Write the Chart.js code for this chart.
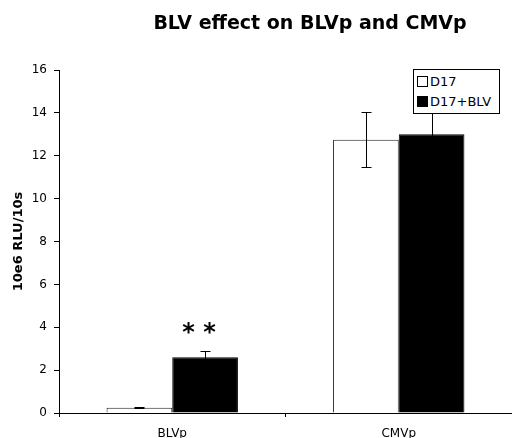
<!DOCTYPE html>
<html>
<head>
<meta charset="utf-8">
<script src="https://cdn.jsdelivr.net/npm/chart.js@4/dist/chart.umd.min.js"></script>
<style>
  body { margin: 0; background: #fff; }
  .wrap { position: relative; width: 512px; height: 438px; }
  .legend {
    position: absolute; left: 413px; top: 69px; width: 85px; height: 41px;
    border: 1px solid #000; background: #fff;
    font-family: Verdana, "DejaVu Sans", sans-serif; font-size: 13px; color: #000;
    padding-top: 2px;
  }
  .legend div { height: 20px; line-height: 20px; white-space: nowrap; padding-left: 3px; }
  .legend span { display: inline-block; width: 9px; height: 9px; border: 1px solid #000; margin-right: 2px; vertical-align: -1px; }
</style>
</head>
<body>
<div class="wrap">
  <canvas id="chart"></canvas>
  <div class="legend">
    <div><span style="background:#fff"></span>D17</div>
    <div><span style="background:#000"></span>D17+BLV</div>
  </div>
</div>
<script>
// 데이터
const categories = ['BLVp', 'CMVp'];
const d17 = [0.25, 12.75];
const d17Err = [0.03, 1.28];
const d17Blv = [2.6, 13.0];
const d17BlvErr = [0.27, 1.2];
const yTicks = [0, 2, 4, 6, 8, 10, 12, 14, 16];

const FONT = 'Verdana, "DejaVu Sans", sans-serif';
Chart.defaults.font.family = FONT;
Chart.defaults.color = '#000';

// 에러바 + 제목 + 별표
const extras = {
    id: 'extras',
    afterDatasetsDraw(chart) {
        const ctx = chart.ctx;
        const y = chart.scales.y;
        const errs = [d17Err, d17BlvErr];
        ctx.save();
        ctx.strokeStyle = '#000';
        ctx.lineWidth = 1;
        chart.data.datasets.forEach(function(ds, i) {
            chart.getDatasetMeta(i).data.forEach(function(bar, j) {
                const v = ds.data[j];
                const top = Math.round(y.getPixelForValue(v + errs[i][j])) + 0.5;
                const bot = Math.round(y.getPixelForValue(v - errs[i][j])) + 0.5;
                const x = Math.round(bar.x) + 0.5;
                ctx.beginPath();
                ctx.moveTo(x, top); ctx.lineTo(x, bot);
                ctx.moveTo(x - 5, top); ctx.lineTo(x + 5, top);
                ctx.moveTo(x - 5, bot); ctx.lineTo(x + 5, bot);
                ctx.stroke();
            });
        });

        // ** 표시
        const b = chart.getDatasetMeta(1).data[0];
        ctx.fillStyle = '#000';
        ctx.font = 'bold 24px ' + FONT;
        ctx.textAlign = 'center';
        ctx.textBaseline = 'alphabetic';
        ctx.fillText('* *', b.x - 6, y.getPixelForValue(d17Blv[0] + d17BlvErr[0]) - 11);

        // 제목
        ctx.font = 'bold 19px ' + FONT;
        ctx.textBaseline = 'middle';
        ctx.fillText('BLV effect on BLVp and CMVp', 310, 24);
        ctx.restore();
    }
};

new Chart(document.getElementById('chart'), {
    type: 'bar',
    data: {
        labels: categories,
        datasets: [
            {
                label: 'D17',
                data: d17,
                backgroundColor: '#fff',
                borderColor: '#222',
                borderWidth: 1,
                barPercentage: 1,
                categoryPercentage: 0.58
            },
            {
                label: 'D17+BLV',
                data: d17Blv,
                backgroundColor: '#000',
                borderColor: '#000',
                borderWidth: 1,
                barPercentage: 1,
                categoryPercentage: 0.58
            }
        ]
    },
    options: {
        responsive: true,
        maintainAspectRatio: false,
        animation: false,
        layout: { padding: { top: 70, right: 0, left: 0, bottom: 0 } },
        plugins: {
            legend: { display: false },
            title: { display: false },
            tooltip: { enabled: false }
        },
        scales: {
            y: {
                min: 0,
                max: 16,
                afterBuildTicks: function(scale) {
                    scale.ticks = yTicks.map(function(v) { return { value: v }; });
                },
                afterFit: function(scale) { scale.width = 59; },
                ticks: { font: { size: 12 }, padding: 7, color: '#000' },
                grid: { drawOnChartArea: false, tickLength: 5, color: '#000' },
                border: { color: '#000', width: 1 },
                title: {
                    display: true,
                    text: '10e6 RLU/10s',
                    font: { size: 13, weight: 'bold' },
                    padding: { top: 11, bottom: 0 }
                }
            },
            x: {
                afterFit: function(scale) { scale.height = 25; },
                ticks: { font: { size: 12 }, padding: 10, color: '#000' },
                grid: { drawOnChartArea: false, offset: true, tickLength: 4, color: '#000' },
                border: { color: '#000', width: 1 }
            }
        }
    },
    plugins: [extras]
});
</script>
</body>
</html>
